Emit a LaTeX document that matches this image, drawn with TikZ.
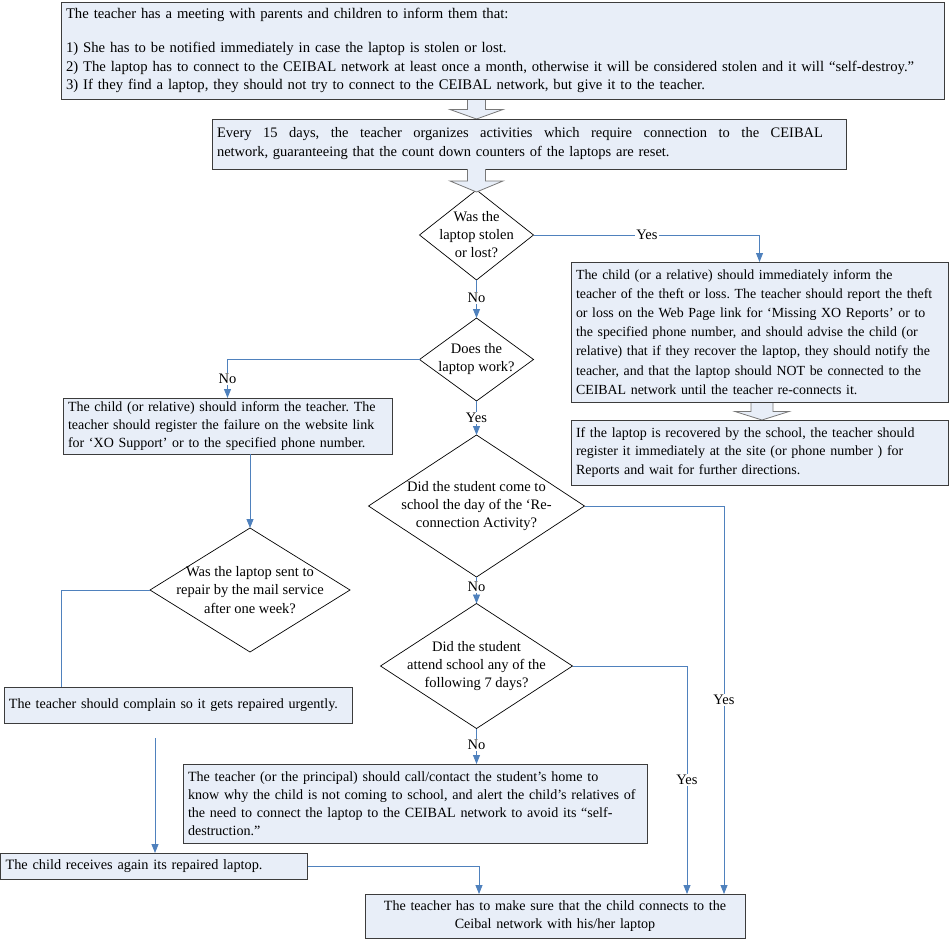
\documentclass[tikz,border=0pt]{standalone}
\usepackage{fontspec}
\setmainfont{Liberation Serif}
\usetikzlibrary{shapes.geometric,arrows.meta,calc}
\definecolor{boxfill}{RGB}{232,238,248}
\definecolor{boxline}{RGB}{60,60,60}
\definecolor{connblue}{RGB}{79,129,189}
\definecolor{arrowgray}{RGB}{120,120,120}
\newcommand\blockarr[6]{%
  \draw[blk] (#1-#5,#2) -- (#1-#5,#3) -- (#1-#6,#3) -- (#1,#4) -- (#1+#6,#3) -- (#1+#5,#3) -- (#1+#5,#2);}
\newcommand\oneline[1]{\mbox{#1}}
\newcommand\fsz[2]{\fontsize{#1}{#2}\selectfont\frenchspacing}
\begin{document}
\begin{tikzpicture}[x=1pt,y=-1pt,
  box/.style={draw=boxline, line width=0.9pt, fill=boxfill, anchor=north west,
    inner xsep=5pt, inner ysep=0pt, outer sep=0pt, align=left,
    font=\fsz{14.1}{18.5}},
  dia/.style={diamond, draw=black, line width=0.7pt, fill=white, inner sep=0pt, outer sep=0pt},
  dtext/.style={align=center, font=\fsz{14.5}{18}, inner sep=0pt},
  lbl/.style={fill=white, inner sep=1.5pt, font=\fsz{14.5}{17}},
  conn/.style={draw=connblue, line width=0.8pt},
  arr/.style={conn, -{Triangle[width=7pt,length=9pt]}},
  blk/.style={draw=arrowgray, line width=0.8pt, fill=boxfill, line join=miter}
]
\useasboundingbox[fill=white] (0,0) rectangle (950,939);

% block arrows
\blockarr{476.5}{99}{109.5}{119}{9}{26.5}
\blockarr{762}{402}{411.5}{420}{11}{27}

% boxes
\node[box, text width=873pt, minimum height=97pt, font=\fsz{14.7}{18.5}] (top) at (61,2) {\oneline{The teacher has a meeting with parents and children to inform them that:}\\[16pt]
\oneline{1) She has to be notified immediately in case the laptop is stolen or lost.}\\
\oneline{2) The laptop has to connect to the CEIBAL network at least once a month, otherwise it will be considered stolen and it will “self-destroy.”}\\
\oneline{3) If they find a laptop, they should not try to connect to the CEIBAL network, but give it to the teacher.}};

\node[box, text width=624pt, minimum height=50pt, font=\fsz{14.5}{19}] (b2) at (212,119) {\hbox to 606pt{Every\hfill 15\hfill days,\hfill the\hfill teacher\hfill organizes\hfill activities\hfill which\hfill require\hfill connection\hfill to\hfill the\hfill CEIBAL}\\
\oneline{network, guaranteeing that the count down counters of the laptops are reset.}};

\node[box, text width=367pt, minimum height=140pt, font=\fsz{13.9}{19.2}] (b3) at (571,262) {\oneline{The child (or a relative) should immediately inform the}\\
\oneline{teacher of the theft or loss. The teacher should report the theft}\\
\oneline{or loss on the Web Page link for ‘Missing XO Reports’ or to}\\
\oneline{the specified phone number, and should advise the child (or}\\
\oneline{relative) that if they recover the laptop, they should notify the}\\
\oneline{teacher, and that the laptop should NOT be connected to the}\\
\oneline{CEIBAL network until the teacher re-connects it.}};

\node[box, text width=367pt, minimum height=65pt, font=\fsz{14.0}{18.5}] (b4) at (571,420) {\oneline{If the laptop is recovered by the school, the teacher should}\\
\oneline{register it immediately at the site (or phone number ) for}\\
\oneline{Reports and wait for further directions.}};

\node[box, text width=319pt, minimum height=56pt, font=\fsz{14.0}{18}] (b5) at (63,398) {\oneline{The child (or relative) should inform the teacher. The}\\
\oneline{teacher should register the failure on the website link}\\
\oneline{for ‘XO Support’ or to the specified phone number.}};

\node[box, text width=454pt, minimum height=79pt, font=\fsz{14.1}{18}] (b6) at (183,764) {\oneline{The teacher (or the principal) should call/contact the student’s home to}\\
\oneline{know why the child is not coming to school, and alert the child’s relatives of}\\
\oneline{the need to connect the laptop to the CEIBAL network to avoid its “self-}\\
\oneline{destruction.”}};

\node[box, text width=297pt, minimum height=26pt, font=\fsz{14.3}{18}] (b7) at (0.6,853) {\oneline{The child receives again its repaired laptop.}};

\node[box, text width=338pt, minimum height=36pt] (b8) at (4,687) {\oneline{The teacher should complain so it gets repaired urgently.}};

\node[box, text width=370pt, minimum height=44pt, align=center, font=\fsz{14.1}{18}] (fin) at (365,894) {The teacher has to make sure that the child connects to the\\
Ceibal network with his/her laptop};

% diamonds
\node[dia, minimum width=114pt, minimum height=90pt] (d1) at (476.5,235) {};
\node[dtext] (d1t) at (d1) {Was the\\laptop stolen\\or lost?};
\node[dia, minimum width=114pt, minimum height=83pt] (d2) at (476.5,359.5) {};
\node[dtext] (d2t) at (d2) {Does the\\laptop work?};
\node[dia, minimum width=216pt, minimum height=142pt] (d3) at (476.5,506) {};
\node[dtext, font=\fsz{14.5}{17.6}] (d3t) at (d3) {Did the student come to\\school the day of the ‘Re-\\connection Activity?};
\node[dia, minimum width=192pt, minimum height=125pt] (d4) at (476.5,666) {};
\node[dtext, font=\fsz{14.5}{17.7}] (d4t) at (d4) {Did the student\\attend school any of the\\following 7 days?};
\node[dia, minimum width=200pt, minimum height=124pt] (d5) at (250,590) {};
\node[dtext, font=\fsz{14.5}{18.5}] (d5t) at (d5) {Was the laptop sent to\\repair by the mail service\\after one week?};

\blockarr{476.5}{169}{181}{192}{9}{26.5}

% connectors
\draw[arr] (d1.east) -| (b3.north);
\draw[arr] (d1.south) -- (d2.north);
\draw[arr] (d2.west) -| (b5.north);
\draw[arr] (d2.south) -- (d3.north);
\draw[arr] (d3.south) -- (d4.north);
\draw[arr] (d4.south) -- (d4.south |- b6.north);
\draw[arr] (d3.east) -| ([xshift=-21pt]fin.north east);
\draw[arr] (d4.east) -| ([xshift=-58pt]fin.north east);
\draw[arr] (d5.north |- b5.south) -- (d5.north);
\draw[conn] (d5.west) -| ([xshift=57pt]b8.north west);
\coordinate (c1) at (155,738);
\draw[arr] (c1) -- (c1 |- b7.north);
\draw[arr] (b7.east) -| ([xshift=114pt]fin.north west);

% labels
\node[lbl] (y1) at (647,235) {Yes};
\node[lbl] (n1) at (476.5,298) {No};
\node[lbl] (n2) at (227.5,379) {No};
\node[lbl] (y2) at (476.5,418) {Yes};
\node[lbl] (n3) at (476.5,587) {No};
\node[lbl] (n4) at (476.5,745) {No};
\node[lbl] (y3) at (724,700) {Yes};
\node[lbl] (y4) at (687,780) {Yes};
\end{tikzpicture}
\end{document}
